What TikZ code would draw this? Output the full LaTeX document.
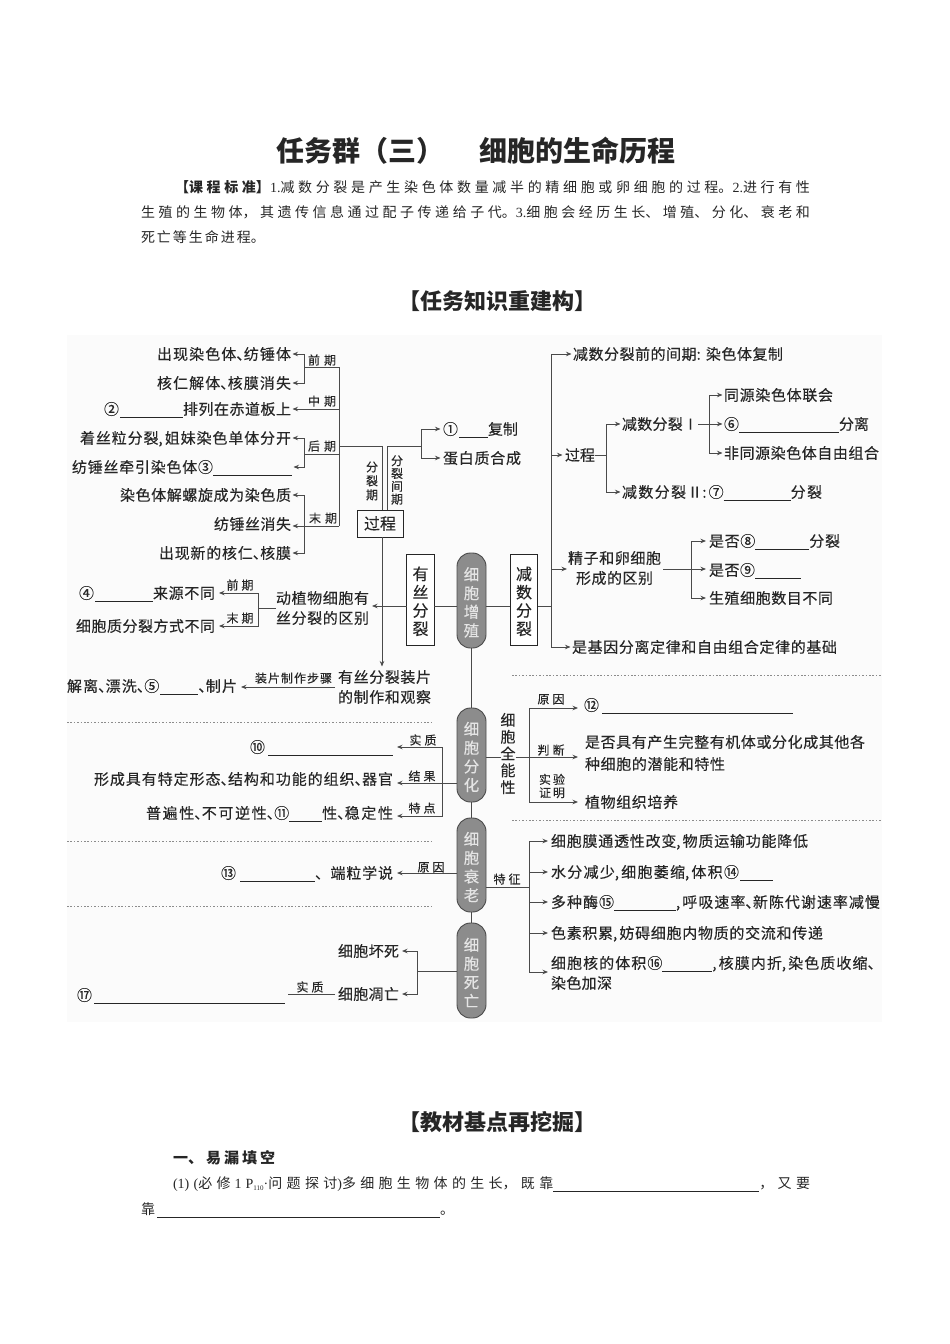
\documentclass[tikz,border=0pt]{standalone}
\usepackage{fontspec}
\setmainfont{Noto Sans CJK SC}
\newfontfamily\diag[FakeBold=.25]{Noto Sans CJK SC}
\newfontfamily\lat{Liberation Serif}
\usetikzlibrary{arrows.meta,calc}
\XeTeXlinebreaklocale "zh"
\XeTeXlinebreakskip=0pt plus 5pt minus .9pt
\tolerance=10000 \hbadness=10000 \hfuzz=30pt
\newcommand{\fit}[2]{\parbox[b]{#1pt}{\parfillskip=0pt\relax\noindent\kern0pt#2}}
\newcommand{\blank}[1]{\rule[-3.2pt]{#1pt}{.8pt}}
\newcommand{\dun}{\makebox[.5em][l]{、}}
\newcommand{\cm}{\makebox[.42em][l]{,}}
\newcommand{\cn}{\makebox[.42em][l]{:}}
\newcommand{\gp}[1]{\hspace*{#1pt}}
\newcommand{\fs}[1]{\fontsize{#1}{#1}\selectfont}
\newcommand{\up}{\rule{0pt}{17pt}}
\definecolor{ink}{HTML}{262626}
\definecolor{wire}{HTML}{4a4a4a}
\tikzset{
 base/.style={inner sep=0pt,outer sep=0pt,text=ink},
 tl/.style={base,anchor=west,font=\fs{15}\diag,text height=13.2pt,text depth=1.8pt},
 tr/.style={base,anchor=east,font=\fs{15}\diag,text height=13.2pt,text depth=1.8pt},
 body/.style={base,anchor=west,font=\fs{14},text height=12.3pt,text depth=1.7pt},
 head/.style={base,font=\fs{22}\bfseries,text height=19.4pt,text depth=2.6pt},
 small/.style={base,font=\fs{12}\diag,text height=10.6pt,text depth=1.4pt},
 vsmall/.style={inner sep=0pt,outer sep=0pt,text=ink,align=center},
 boxv/.style={draw=ink,line width=.8pt,fill=white,inner sep=0pt,outer sep=0pt,text=ink,align=center,font=\fontsize{16}{18.3}\selectfont\diag,minimum width=27.5pt,minimum height=91pt},
 pill/.style={draw=black!70,line width=.9pt,fill=black!45,rounded corners=13.5pt,inner sep=0pt,outer sep=0pt,text=black!10,align=center,font=\fontsize{15.5}{18.7}\selectfont\diag,minimum width=29pt},
 wir/.style={draw=wire,line width=.9pt},
 arr/.style={wir,-{Stealth[length=5.5pt,width=4.5pt]},shorten >=1.5pt},
 dots/.style={draw=black!45,line width=.8pt,dash pattern=on 1.6pt off 1.8pt},
}
\begin{document}
\begin{tikzpicture}[x=1pt,y=-1pt]
\useasboundingbox (0,0) rectangle (950,1344);
\fill[black!1.5] (67,335) rectangle (882,1022);
% page text
\node[base,font=\fs{28}\bfseries,text height=24.6pt,text depth=3.4pt] (title) at (476,151) {任务群（三）\gp{36}细胞的生命历程};
\node[body] (b1) at (175,187) {\fit{635}{{\bfseries 【课程标准】}{\lat 1.}减数分裂是产生染色体数量减半的精细胞或卵细胞的过程。{\lat 2.}进行有性}};
\node[body] (b2) at (141,212) {\fit{669}{生殖的生物体，其遗传信息通过配子传递给子代。{\lat 3.}细胞会经历生长、增殖、分化、衰老和}};
\node[body] (b3) at (141,237) {\fit{124}{死亡等生命进程。}};
\node[head] (h1) at (497,301) {【任务知识重建构】};
\node[head] (h2) at (497,1122) {【教材基点再挖掘】};
\node[body,font=\fs{15}\bfseries] (y1) at (173,1158) {\fit{102}{一、易漏填空}};
\node[body] (y2) at (173,1183) {\fit{637}{{\lat (1)(}必修\gp{4}{\lat 1}\gp{4}{\lat P}\raisebox{-2pt}{\lat\fs{7}110}{\lat ·}问题探讨{\lat )}多细胞生物体的生长，既靠\blank{206}，又要}};
\node[body] (y3) at (141,1209) {\fit{316}{靠\gp{2}\blank{283}。}};
% left upper
\node[tr] (n1) at (291,354) {\fit{134}{出现染色体\dun 纺锤体}};
\node[tr] (n2) at (291,383) {\fit{134}{核仁解体\dun 核膜消失}};
\node[tr] (n3) at (291,409) {\fit{187}{②\gp{1}\blank{63}排列在赤道板上}};
\node[tr] (n4) at (291,438) {\fit{211}{着丝粒分裂\cm 姐妹染色单体分开}};
\node[tl] (n5) at (72,467) {\fit{220}{纺锤丝牵引染色体③\blank{79}}};
\node[tr] (n6) at (291,495) {\fit{171}{染色体解螺旋成为染色质}};
\node[tr] (n7) at (291,524) {\fit{77}{纺锤丝消失}};
\node[tr] (n8) at (291,553) {\fit{132}{出现新的核仁\dun 核膜}};
\node[small] (lq) at (322,360) {\fit{28}{前期}};
\node[small] (lz) at (322,401) {\fit{28}{中期}};
\node[small] (lh) at (322,446) {\fit{28}{后期}};
\node[small] (lm) at (323,518) {\fit{28}{末期}};
\coordinate (a1) at (304,367);
\coordinate (a2) at (339,367);
\coordinate (a3) at (339,526);
\coordinate (a4) at (304,454);
\coordinate (a5) at (304,526);
\coordinate (a6) at (339,446);
\draw[wir] (a2) -- (a3);
\draw[wir] (a1) -- (a2);
\draw[arr] (a1) |- (n1.east);
\draw[arr] (a1) |- (n2.east);
\draw[arr] (a2 |- n3.east) -- (n3.east);
\draw[wir] (a4) -- (a4 -| a2);
\draw[arr] (a4) |- (n4.east);
\draw[arr] (a4) |- (n5.east);
\draw[arr] (a3) -- (a3 -| n7.east);
\draw[arr] (a5) |- (n6.east);
\draw[arr] (a5) |- (n8.east);
% process box
\node[draw=ink,line width=.8pt,inner sep=0pt,outer sep=0pt,text=ink,font=\fs{16}\diag,minimum width=46pt,minimum height=27pt] (gc) at (380,523.5) {过程};
\node[vsmall,font=\fontsize{12}{14}\selectfont\diag] (fl) at (372,481) {分\\裂\\期};
\node[vsmall,font=\fontsize{12}{12.8}\selectfont\diag] (fj) at (397,480) {分\\裂\\间\\期};
\node[tl] (c1) at (443,429) {\fit{75}{①\gp{1}\blank{29}复制}};
\node[tl] (c2) at (443,458) {\fit{78}{蛋白质合成}};
\coordinate (a7) at (421,446);
\draw[wir] (a6) -| ([xshift=2pt]gc.north);
\draw[wir] ([xshift=7pt]gc.north) |- (a7);
\draw[arr,shorten >=2.5pt] (a7) |- (c1.west);
\draw[arr,shorten >=2.5pt] (a7) |- (c2.west);
% spine
\node[pill,minimum height=95pt] (p1) at (471.5,600.5) {\up 细\\胞\\增\\殖};
\node[pill,minimum height=94pt] (p2) at (471.5,755) {\up 细\\胞\\分\\化};
\node[pill,minimum height=94pt] (p3) at (471.5,865) {\up 细\\胞\\衰\\老};
\node[pill,minimum height=95pt] (p4) at (471.5,970.5) {\up 细\\胞\\死\\亡};
\draw[wir] (p1.south) -- (p2.north);
\draw[wir] (p2.south) -- (p3.north);
\draw[wir] (p3.south) -- (p4.north);
\node[boxv] (ys) at (420.5,599.5) {\up 有\\丝\\分\\裂};
\node[boxv] (js) at (524,599.5) {\up 减\\数\\分\\裂};
\coordinate (m1) at (471,606);
\draw[wir] (ys.east |- m1) -- (p1.west |- m1);
\draw[wir] (p1.east |- m1) -- (js.west |- m1);
% mitosis differences
\node[tl] (d1) at (79,593) {\fit{136}{④\gp{1}\blank{58}来源不同}};
\node[tr] (d2) at (215,626) {\fit{139}{细胞质分裂方式不同}};
\node[small] (d3) at (240,585) {\fit{27}{前期}};
\node[small] (d4) at (240,618) {\fit{27}{末期}};
\node[tl] (z1) at (276,598) {\fit{93}{动植物细胞有}};
\node[tl] (z2) at (276,618) {\fit{93}{丝分裂的区别}};
\coordinate (a8) at (258,608);
\draw[wir] (a8) -- (a8 -| z1.west);
\draw[arr,shorten >=4pt] (a8) |- (d1.east);
\draw[arr,shorten >=4pt] (a8) |- (d2.east);
\draw[arr,shorten >=3pt] (ys.west |- m1) -- (z1.east |- m1);
% slides
\node[tl] (s1) at (338,677) {\fit{93}{有丝分裂装片}};
\node[tl] (s2) at (338,697) {\fit{93}{的制作和观察}};
\node[tl] (s3) at (67,686) {\fit{170}{解离\dun 漂洗\dun ⑤\gp{1}\blank{38}\dun 制片}};
\node[small] (s4) at (293.5,678) {\fit{77}{装片制作步骤}};
\coordinate (a9) at (335,687);
\draw[arr,shorten >=4pt] (a9) -- (a9 -| s3.east);
\draw[arr,shorten >=3pt] ([xshift=2pt]gc.south) -- ([xshift=2pt]gc.south |- s1.north);
% meiosis
\node[tl] (e1) at (573,354) {\fit{210}{减数分裂前的间期\cn\gp{3}染色体复制}};
\node[tl] (e2) at (565,455) {\fit{30}{过程}};
\node[tl] (e3) at (622,424) {\fit{76}{减数分裂Ⅰ}};
\node[tl] (e4) at (622,492) {\fit{200}{减数分裂Ⅱ\cn ⑦\blank{67}分裂}};
\node[tl] (e5) at (724,395) {\fit{109}{同源染色体联会}};
\node[tl] (e6) at (724,424) {\fit{145}{⑥\blank{100}分离}};
\node[tl] (e7) at (724,453) {\fit{155}{非同源染色体自由组合}};
\node[tl] (e8) at (568,558) {\fit{93}{精子和卵细胞}};
\node[tl] (e9) at (576,578) {\fit{77}{形成的区别}};
\node[tl] (e10) at (709,541) {\fit{131}{是否⑧\blank{54}分裂}};
\node[tl] (e11) at (709,570) {\fit{92}{是否⑨\blank{46}}};
\node[tl] (e12) at (709,598) {\fit{124}{生殖细胞数目不同}};
\node[tl] (e13) at (572,647) {\fit{265}{是基因分离定律和自由组合定律的基础}};
\coordinate (b0) at (551,606);
\coordinate (b01) at (551,569);
\coordinate (b4) at (606,455);
\coordinate (b5) at (709,424);
\coordinate (b6) at (691,569);
\draw[wir] (js.east |- b0) -- (b0);
\draw[arr] (b0) |- (e1.west);
\draw[arr] (b0) |- (e13.west);
\draw[arr,shorten >=2.5pt] (e2.west -| b0) -- (e2.west);
\draw[arr,shorten >=1pt] (b01) -- (b01 -| e8.west);
\draw[wir] (e2.east) -- (b4);
\draw[arr] (b4) |- (e3.west);
\draw[arr] (b4) |- (e4.west);
\draw[arr] (e3.east) -- (e6.west);
\draw[arr] (b5) |- (e5.west);
\draw[arr] (b5) |- (e7.west);
\draw[arr,shorten >=3pt] (663,569) -- (b6 -| e11.west);
\draw[arr,shorten >=3pt] (b6) |- (e10.west);
\draw[arr,shorten >=3pt] (b6) |- (e12.west);
\draw[dots] (512,675) -- (882,675);
\draw[dots] (67,722) -- (431,722);
\draw[dots] (512,820) -- (882,820);
\draw[dots] (67,841) -- (431,841);
\draw[dots] (67,906) -- (431,906);
% differentiation left
\node[tr] (f1) at (393,747) {\fit{143}{⑩\gp{3}\blank{125}}};
\node[tr] (f2) at (393,779) {\fit{299}{形成具有特定形态\dun 结构和功能的组织\dun 器官}};
\node[tr] (f3) at (393,813) {\fit{247}{普遍性\dun 不可逆性\dun ⑪\blank{33}性\dun 稳定性}};
\node[small] (f4) at (423,740) {\fit{27}{实质}};
\node[small] (f5) at (422,776) {\fit{27}{结果}};
\node[small] (f6) at (422,808) {\fit{27}{特点}};
\coordinate (g1) at (442,783);
\draw[arr,shorten >=4pt] (p2.west |- g1) -- (g1 -| f2.east);
\draw[arr,shorten >=4pt] (g1) |- (f1.east);
\draw[arr,shorten >=4pt] (g1) |- ([yshift=-3pt]f3.east);
% totipotency
\node[vsmall,font=\fontsize{15}{16.8}\selectfont\diag] (q0) at (508,753.5) {细\\胞\\全\\能\\性};
\node[tl] (q1) at (584,705) {\fit{209}{⑫\gp{3}\blank{191}}};
\node[tl] (q2) at (585,742) {\fit{280}{是否具有产生完整有机体或分化成其他各}};
\node[tl] (q3) at (585,764) {\fit{140}{种细胞的潜能和特性}};
\node[tl] (q4) at (585,802) {\fit{93}{植物组织培养}};
\node[small] (q5) at (551,699) {\fit{27}{原因}};
\node[small] (q6) at (551,750) {\fit{27}{判断}};
\node[vsmall,font=\fontsize{12}{13.2}\selectfont\diag] (q7) at (552,786) {实\,验\\证\,明};
\coordinate (g2) at (529,757);
\coordinate (g3) at (585,757);
\draw[wir] (p2.east |- g2) -- (q0.west |- g2);
\draw[arr,shorten >=7pt] (q0.east |- g2) -- (g3);
\draw[arr,shorten >=6pt] (g2) |- ([yshift=-3pt]q1.west);
\draw[arr,shorten >=7pt] (g2) |- (q4.west);
% aging left
\node[tr] (h3) at (393,873) {\fit{172}{⑬\gp{4}\blank{75}\dun\gp{8}端粒学说}};
\node[small] (h4) at (431,867) {\fit{27}{原因}};
\coordinate (g4) at (471,873);
\draw[arr,shorten >=4pt] (p3.west |- g4) -- (g4 -| h3.east);
% aging right
\node[tl] (r1) at (551,841) {\fit{257}{细胞膜通透性改变\cm 物质运输功能降低}};
\node[tl] (r2) at (551,872) {\fit{222}{水分减少\cm 细胞萎缩\cm 体积⑭\gp{1}\blank{33}}};
\node[tl] (r3) at (551,902) {\fit{329}{多种酶⑮\blank{62}\cm 呼吸速率\dun 新陈代谢速率减慢}};
\node[tl] (r4) at (551,933) {\fit{272}{色素积累\cm 妨碍细胞内物质的交流和传递}};
\node[tl] (r5) at (551,963) {\fit{324}{细胞核的体积⑯\blank{50}\cm 核膜内折\cm 染色质收缩\dun}};
\node[tl] (r6) at (551,983) {\fit{61}{染色加深}};
\node[small] (r7) at (507,879) {\fit{27}{特征}};
\coordinate (g5) at (529,887);
\coordinate (g6) at (529,972);
\draw[wir] (p3.east |- g5) -- (g5);
\draw[wir] (g5) -- (g6);
\draw[arr,shorten >=3pt] (g5) |- (r1.west);
\draw[arr,shorten >=3pt] (r2.west -| g5) -- (r2.west);
\draw[arr,shorten >=3pt] (r3.west -| g5) -- (r3.west);
\draw[arr,shorten >=3pt] (r4.west -| g5) -- (r4.west);
\draw[arr,shorten >=3pt] (g6) -- (g6 -| r5.west);
% death
\node[tl] (t1) at (338,951) {\fit{61}{细胞坏死}};
\node[tl] (t2) at (338,994) {\fit{61}{细胞凋亡}};
\node[tl] (t3) at (77,995) {\fit{208}{⑰\gp{2}\blank{191}}};
\node[small] (t4) at (310,987) {\fit{27}{实质}};
\coordinate (g7) at (417,971);
\draw[wir] (p4.west |- g7) -- (g7);
\draw[arr,shorten >=3pt] (g7) |- (t1.east);
\draw[arr,shorten >=3pt] (g7) |- (t2.east);
\draw[wir,shorten <=3pt,shorten >=3pt] (t2.west) -- (t3.east |- t2.west);
\end{tikzpicture}
\end{document}
